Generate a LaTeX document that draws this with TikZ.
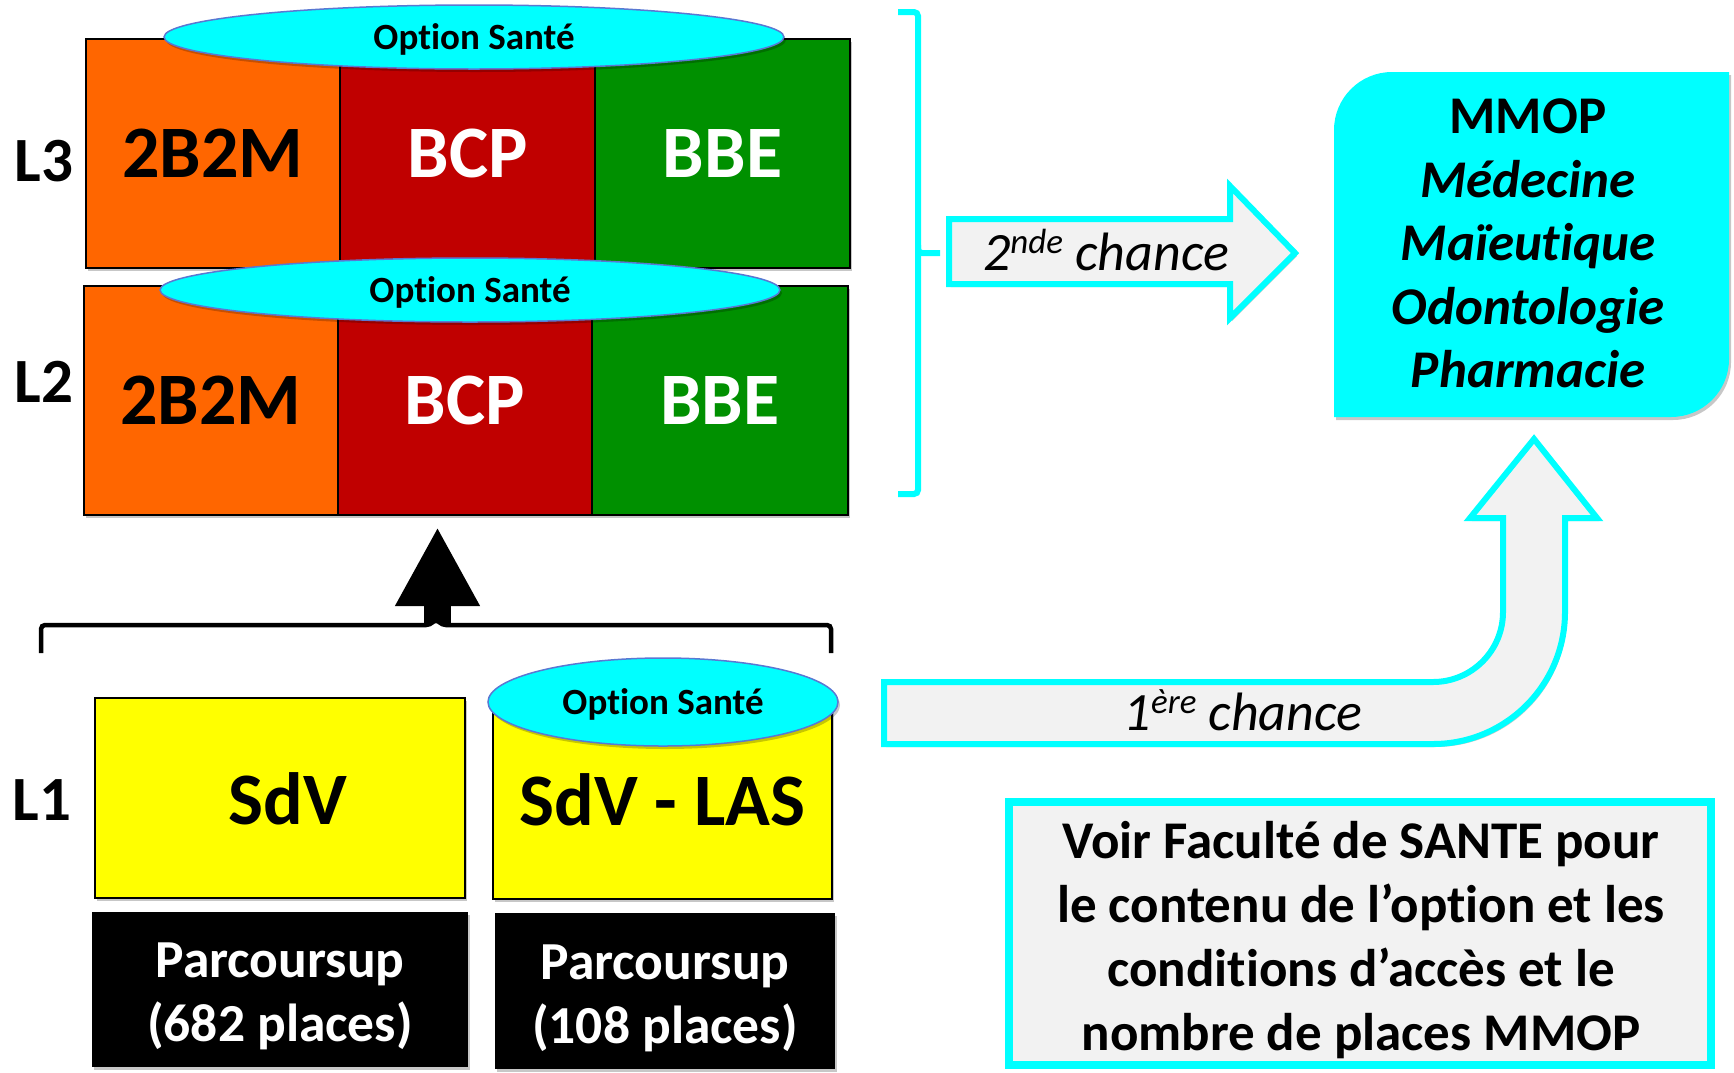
\documentclass[tikz,border=0pt]{standalone}
\usepackage{fontspec}
\setmainfont{Carlito}[Ligatures=NoCommon]
\usetikzlibrary{shapes.geometric,shadows,arrows.meta}
\definecolor{orng}{RGB}{255,102,0}
\definecolor{rd}{RGB}{192,0,0}
\definecolor{grn}{RGB}{0,144,0}
\definecolor{cyn}{RGB}{0,255,255}
\definecolor{lgray}{RGB}{242,242,242}
\definecolor{ylw}{RGB}{255,255,0}
\definecolor{ellline}{RGB}{90,120,210}
\newcommand{\mysup}[1]{\raisebox{17pt}{\fontsize{35}{35}\selectfont #1}}
\begin{document}
\begin{tikzpicture}[x=1pt,y=-1pt,
  shd/.style={drop shadow={shadow xshift=2pt,shadow yshift=-3pt,opacity=0.22,fill=black}},
  celltxt/.style={inner sep=0pt,font=\fontsize{74}{80}\selectfont\bfseries},
  cell/.style={celltxt,draw=black,line width=2.5pt,shd},
  opt/.style={ellipse,fill=cyn,draw=ellline,line width=1.5pt,inner sep=0pt,text depth=0pt,minimum width=620pt,minimum height=64pt,font=\fontsize{37}{40}\selectfont\bfseries,shd},
  lvl/.style={font=\fontsize{63}{70}\selectfont\bfseries,inner sep=0pt},
  psup/.style={fill=black,inner sep=0pt,shd},
  psuptxt/.style={text=white,inner sep=0pt,align=center,font=\fontsize{53.5}{64}\selectfont\bfseries},
  fatarrow/.style={fill=lgray,draw=cyn,line width=6pt,line join=miter,shd},
  chance/.style={font=\fontsize{54}{60}\selectfont\itshape,inner sep=0pt,anchor=base},
  bigtxt/.style={align=center,font=\fontsize{53}{64}\selectfont\bfseries,inner sep=0pt},
]
\useasboundingbox (0,0) rectangle (1734,1072);

% L3 row
\node[cell,fill=orng,minimum width=254pt,minimum height=229pt] (a3) at (213,153.5) {2B2M};
\node[cell,fill=rd,text=white,minimum width=255pt,minimum height=229pt] (b3) at (467.5,153.5) {BCP};
\node[cell,fill=grn,text=white,minimum width=255pt,minimum height=229pt] (c3) at (722.5,153.5) {BBE};
\node[opt] (o3) at (474,37) {Option Santé};

% L2 row
\node[cell,fill=orng,minimum width=254pt,minimum height=229pt] (a2) at (211,400.5) {2B2M};
\node[cell,fill=rd,text=white,minimum width=254pt,minimum height=229pt] (b2) at (465,400.5) {BCP};
\node[cell,fill=grn,text=white,minimum width=256pt,minimum height=229pt] (c2) at (720,400.5) {BBE};
\node[opt] (o2) at (470,290) {Option Santé};

% level labels
\node[lvl] (l3) at (44,161) {L3};
\node[lvl] (l2) at (44,382) {L2};
\node[lvl] (l1) at (42,800) {L1};

% L1
\node[cell,fill=ylw,minimum width=370pt,minimum height=200pt] (sdv) at (280,798) {};
\node[celltxt] (sdvtxt) at (288,799) {SdV};
\node[cell,fill=ylw,minimum width=339pt,minimum height=199pt] (las) at (662.5,799.5) {SdV - LAS};
\node[opt,minimum width=350pt,minimum height=88pt] (o1) at (663,702) {Option Santé};

\node[psup,minimum width=376pt,minimum height=155pt] (p1) at (280,989.5) {};
\node[psuptxt] (p1txt) at (280,996) {Parcoursup\\(682 places)};
\node[psup,minimum width=340pt,minimum height=156pt] (p2) at (665,991) {};
\node[psuptxt] (p2txt) at (665,998) {Parcoursup\\(108 places)};

% black brace and arrow up
\draw[line width=4.5pt,rounded corners=4pt] (41,653) -- (41,625) -- (430,625) -- (436,619) -- (442,625) -- (831,625) -- (831,653);
\coordinate (braceup) at (437.5,623);
\coordinate (uptip) at (437.5,527);
\draw[line width=27pt,-{Triangle[length=79pt,width=79pt]}] (braceup) -- (uptip);

% cyan bracket
\draw[cyn,line width=6pt,rounded corners=4pt] (898,12) -- (918,12) -- (918,253) -- (940,253);
\draw[cyn,line width=6pt,rounded corners=4pt] (918,245) -- (918,494) -- (898,494);

% 2nde chance arrow
\draw[fatarrow] (949,219) -- (1230,219) -- (1230,186) -- (1295,253) -- (1230,318) -- (1230,284) -- (949,284) -- cycle;
\node[chance] (t2) at (1106,270) {2\mysup{nde} chance};

% bent arrow 1ere chance
\draw[fatarrow] (884,682) -- (1433,682) .. controls (1471.7,682) and (1503,650.7) .. (1503,612) -- (1503,518) -- (1470,518) -- (1534,439) -- (1597,518) -- (1565,518) -- (1565,612) .. controls (1565,684.9) and (1505.9,744) .. (1433,744) -- (884,744) -- cycle;
\node[chance] (t1) at (1243,730) {1\mysup{ère} chance};

% MMOP box
\fill[cyn,shd] (1334,417) -- (1334,130) .. controls (1334,98) and (1360,72) .. (1392,72) -- (1729,72) -- (1729,359) .. controls (1729,391) and (1703,417) .. (1671,417) -- cycle;
\node[bigtxt,font=\fontsize{53}{63.5}\selectfont\bfseries] (mmop) at (1528,243.5) {MMOP\\\textit{Médecine}\\\textit{Maïeutique}\\\textit{Odontologie}\\\textit{Pharmacie}};

% info box
\node[draw=cyn,fill=lgray,line width=8pt,minimum width=702pt,minimum height=263pt,shd] (info) at (1360,933.5) {};
\node[bigtxt] (infotxt) at (1361,940) {Voir Faculté de SANTE pour\\le contenu de l’option et les\\conditions d’accès et le\\nombre de places MMOP};
\end{tikzpicture}
\end{document}
